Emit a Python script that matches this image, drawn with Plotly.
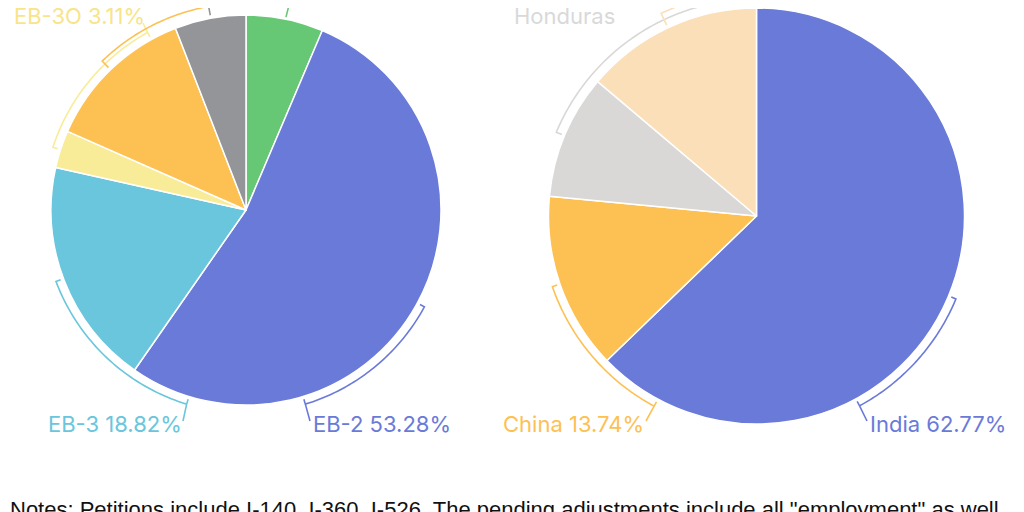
import numpy as np
import plotly.graph_objects as go

W, H = 1024, 512

# Left pie: pending employment adjustments by preference category (%)
cat_names = ["EB-1", "EB-2", "EB-3", "EB-3O", "EB-4", "EB-5"]
cat_values = [6.40, 53.28, 18.82, 3.11, 12.50, 5.89]
cat_colors = ["#66c874", "#6a7ad9", "#69c6dc", "#f9ec98", "#fdc153", "#939598"]

# Right pie: pending employment adjustments by country (%)
country_names = ["India", "China", "El Salvador, Guatemala,<br>Honduras", "Rest of world"]
country_values = [62.77, 13.74, 9.67, 13.82]
country_colors = ["#6a7ad9", "#fdc153", "#d9d8d7", "#fbdfb9"]

notes = 'Notes: Petitions include I-140, I-360, I-526. The pending adjustments include all "employment" as well'

# pie geometry in figure pixels (centre x, centre y from top, radius)
LEFT = dict(cx=238, cy=202, r=195)
RIGHT = dict(cx=748.5, cy=208, r=208)


def domain(p):
    return dict(x=[(p["cx"] - p["r"]) / W, (p["cx"] + p["r"]) / W],
                y=[1 - (p["cy"] + p["r"]) / H, 1 - (p["cy"] - p["r"]) / H])


def polar(p, ang, rad):
    # angle in degrees, clockwise from 12 o'clock -> paper coords
    a = np.radians(ang)
    return (p["cx"] + rad * np.sin(a)) / W, 1 - (p["cy"] - rad * np.cos(a)) / H


def px(x, y):
    return x / W, 1 - y / H


def bracket(p, a0, a1, off, leader=None, end_tick=True):
    R = p["r"]
    pts = [polar(p, a0, R + 3)]
    for a in np.linspace(a0, a1, 60):
        pts.append(polar(p, a, R + off))
    if end_tick:
        pts.append(polar(p, a1, R + 3))
    path = "M" + " L".join(f"{x:.5f},{y:.5f}" for x, y in pts)
    if leader is not None:
        sx, sy = polar(p, a1, R + off)
        lx, ly = px(*leader)
        path += f" M{sx:.5f},{sy:.5f} L{lx:.5f},{ly:.5f}"
    return path


fig = go.Figure()
for p, names, vals, cols in [(LEFT, cat_names, cat_values, cat_colors),
                             (RIGHT, country_names, country_values, country_colors)]:
    fig.add_trace(go.Pie(
        labels=names, values=vals, sort=False, direction="clockwise", rotation=0,
        marker=dict(colors=cols, line=dict(color="white", width=1.5)),
        textinfo="none", hoverinfo="label+percent", domain=domain(p),
    ))

# bracket arcs: (pie, slice colour, start angle, end angle, ring offset, leader end)
# the ones running off the top have their far end out of view
brackets = [
    (LEFT, cat_colors[1], 118.5, 163, 8, (302, 413)),
    (LEFT, cat_colors[2], 249.4, 197, 8, (175, 413)),
    (LEFT, cat_colors[3], 288, 331, 8, (135, 15)),
    (LEFT, cat_colors[4], 316, 362, 12, None),
    (LEFT, cat_colors[5], 349.6, 364, 16, None),
    (RIGHT, country_colors[0], 112.6, 151.5, 8, (859, 413)),
    (RIGHT, country_colors[1], 250.9, 208.3, 8, (638, 413)),
    (RIGHT, country_colors[2], 292.7, 362, 9, None),
    (RIGHT, country_colors[3], 334.8, 364, 16, None),
]
shapes = []
for p, col, a0, a1, off, lead in brackets:
    shapes.append(dict(type="path", xref="paper", yref="paper",
                       path=bracket(p, a0, a1, off, lead, end_tick=a1 < 340),
                       line=dict(color=col, width=1.6)))
# EB-1 leader running up out of view
x0, y0 = polar(LEFT, 11.7, LEFT["r"] + 2)
x1, y1 = polar(LEFT, 12.0, LEFT["r"] + 30)
shapes.append(dict(type="line", xref="paper", yref="paper", x0=x0, y0=y0, x1=x1, y1=y1,
                   line=dict(color=cat_colors[0], width=1.6)))


def label(names, vals, i):
    return f"{names[i]} {vals[i]:.2f}%"


lab_font = "Inter, Roboto, sans-serif"
annotations = []
# (text, colour, x px, y px, xanchor)
labels = [
    (label(cat_names, cat_values, 1), cat_colors[1], 303, 416, "left"),
    (label(cat_names, cat_values, 2), cat_colors[2], 176, 416, "right"),
    (label(cat_names, cat_values, 3), "#f8e48a", 139, 8, "right"),
    (label(country_names, country_values, 0), country_colors[0], 860, 416, "left"),
    (label(country_names, country_values, 1), country_colors[1], 638, 416, "right"),
]
for text, col, x, y, xa in labels:
    ax, ay = px(x, y)
    annotations.append(dict(text=text, x=ax, y=ay, xref="paper", yref="paper",
                            xanchor=xa, yanchor="middle", showarrow=False,
                            font=dict(family=lab_font, size=22, color=col)))

# multi-line grey label, only its last line is in view
ax, ay = px(504, 23)
annotations.append(dict(text=f"{country_values[2]:.2f}% {country_names[2]}",
                        x=ax, y=ay, xref="paper", yref="paper", align="left",
                        xanchor="left", yanchor="bottom", showarrow=False,
                        font=dict(family=lab_font, size=22, color="#d9d9d9")))

ax, ay = px(0, 501)
annotations.append(dict(text=notes, x=ax, y=ay, xref="paper", yref="paper",
                        xanchor="left", yanchor="middle", showarrow=False,
                        font=dict(family="Liberation Sans, Arial, sans-serif", size=22, color="#111111")))

fig.update_layout(
    width=W, height=H,
    margin=dict(l=0, r=0, t=0, b=0),
    paper_bgcolor="white", plot_bgcolor="white",
    showlegend=False,
    shapes=shapes,
    annotations=annotations,
)

fig.write_html("out.html")
